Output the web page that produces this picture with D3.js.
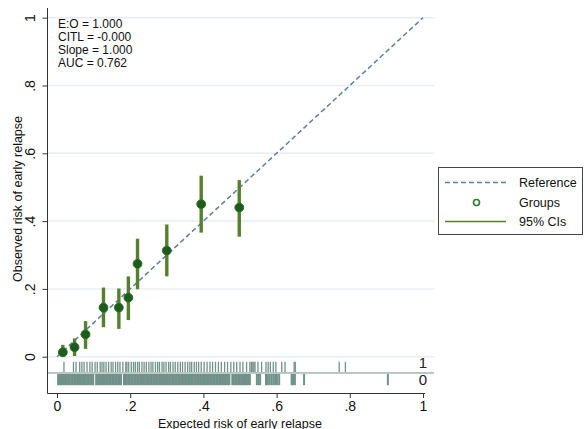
<!DOCTYPE html>
<html>
<head>
<meta charset="utf-8">
<script src="https://cdn.jsdelivr.net/npm/d3@7"></script>
<style>
  body { margin:0; background:#fff; }
  svg { font-family: "Liberation Sans", Arial, sans-serif; }
</style>
</head>
<body>
<svg id="svg" width="585" height="429"></svg>
<script>
// calibration groups (expected vs observed) + 95% CIs
var groupExp  = [0.016, 0.048, 0.078, 0.127, 0.169, 0.195, 0.220, 0.300, 0.394, 0.498];
var groupObs  = [0.013, 0.028, 0.066, 0.145, 0.145, 0.174, 0.274, 0.313, 0.450, 0.440];
var ciLow     = [0.000, 0.002, 0.023, 0.087, 0.082, 0.108, 0.199, 0.237, 0.366, 0.354];
var ciHigh    = [0.035, 0.054, 0.105, 0.204, 0.201, 0.237, 0.348, 0.390, 0.534, 0.521];

var tickVals   = [0, 0.2, 0.4, 0.6, 0.8, 1];
var tickLabels = ["0", ".2", ".4", ".6", ".8", "1"];

var statLines = ["E:O = 1.000", "CITL = -0.000", "Slope = 1.000", "AUC = 0.762"];
var legendLabels = ["Reference", "Groups", "95% CIs"];

// rug: predicted risk of patients with outcome = 1
var rugEvents = [0.019,0.045,0.052,0.062,0.068,0.074,0.082,0.090,0.096,0.104,
  0.110,0.118,0.123,0.128,0.134,0.141,0.148,0.153,0.160,0.166,
  0.172,0.180,0.188,0.191,0.196,0.203,0.209,0.214,0.220,0.225,
  0.232,0.238,0.244,0.251,0.257,0.262,0.269,0.275,0.280,0.287,
  0.292,0.298,0.305,0.310,0.317,0.323,0.330,0.337,0.343,0.350,
  0.357,0.363,0.368,0.375,0.381,0.387,0.394,0.402,0.410,0.418,
  0.425,0.433,0.441,0.449,0.458,0.466,0.475,0.483,0.491,0.500,
  0.508,0.518,0.527,0.531,0.535,0.538,0.541,0.549,0.559,0.571,
  0.577,0.583,0.591,0.598,0.614,0.623,0.648,0.651,0.771,0.788];
// rug: predicted risk of patients with outcome = 0
var rugNonEvents = [0.003,0.007,0.011,0.015,0.019,0.023,0.027,0.031,0.035,0.039,
  0.043,0.047,0.051,0.055,0.059,0.063,0.067,0.071,0.075,0.079,
  0.083,0.087,0.091,0.095,0.099,0.107,0.111,0.115,0.119,0.123,
  0.127,0.131,0.135,0.139,0.143,0.147,0.151,0.155,0.159,0.163,
  0.167,0.171,0.175,0.183,0.187,0.191,0.195,0.199,0.203,0.207,
  0.211,0.215,0.219,0.223,0.227,0.231,0.235,0.239,0.243,0.247,
  0.251,0.255,0.259,0.263,0.267,0.271,0.275,0.279,0.283,0.287,
  0.291,0.295,0.299,0.303,0.307,0.311,0.315,0.319,0.323,0.327,
  0.331,0.335,0.339,0.343,0.347,0.351,0.355,0.359,0.363,0.367,
  0.371,0.375,0.379,0.383,0.387,0.391,0.395,0.399,0.403,0.407,
  0.411,0.415,0.419,0.423,0.427,0.431,0.435,0.439,0.443,0.447,
  0.451,0.455,0.459,0.463,0.467,0.471,0.479,0.483,0.487,0.491,
  0.495,0.499,0.503,0.507,0.511,0.515,0.519,0.523,0.527,
  0.546,0.550,0.555,0.571,0.576,0.581,0.586,0.591,0.596,0.601,
  0.607,0.641,0.645,0.650,0.675,0.904];

var svg = d3.select("#svg");

var x = d3.scaleLinear().domain([0, 1]).range([57, 423]);
var y = d3.scaleLinear().domain([0, 1]).range([356.7, 17.7]);

var rugCol = "#71918a";
var refCol = "#5f7d9c";
var ciCol = "#55802f";
var dotCol = "#1c5c1c";

// gridlines
svg.append("g").selectAll("line")
  .data(tickVals).enter().append("line")
  .attr("x1", 48).attr("x2", 434)
  .attr("y1", function(d){ return y(d); }).attr("y2", function(d){ return y(d); })
  .style("stroke", "#e6eef2").style("stroke-width", 1.5);

// rug separator
svg.append("line")
  .attr("x1", 48).attr("x2", 434)
  .attr("y1", y(-0.048)).attr("y2", y(-0.048))
  .style("stroke", rugCol).style("stroke-width", 1);

// rug ticks
svg.append("g").selectAll("line")
  .data(rugEvents).enter().append("line")
  .attr("x1", function(d){ return x(d); }).attr("x2", function(d){ return x(d); })
  .attr("y1", y(-0.015)).attr("y2", y(-0.045))
  .style("stroke", rugCol).style("stroke-width", 1.3);
svg.append("g").selectAll("line")
  .data(rugNonEvents).enter().append("line")
  .attr("x1", function(d){ return x(d); }).attr("x2", function(d){ return x(d); })
  .attr("y1", y(-0.051)).attr("y2", y(-0.084))
  .style("stroke", rugCol).style("stroke-width", 2);

svg.append("text").attr("x", x(1) + 4).attr("y", y(-0.034))
  .attr("text-anchor", "end").style("font-size", "15px").style("fill", "#222").text("1");
svg.append("text").attr("x", x(1) + 4).attr("y", y(-0.084))
  .attr("text-anchor", "end").style("font-size", "15px").style("fill", "#222").text("0");

// reference line
svg.append("line")
  .attr("x1", x(0)).attr("y1", y(0)).attr("x2", x(1)).attr("y2", y(1))
  .style("stroke", refCol).style("stroke-width", 1.5).style("stroke-dasharray", "5,3");

// CIs
svg.append("g").selectAll("line")
  .data(groupExp).enter().append("line")
  .attr("x1", function(d){ return x(d); }).attr("x2", function(d){ return x(d); })
  .attr("y1", function(d, i){ return y(ciLow[i]); })
  .attr("y2", function(d, i){ return y(ciHigh[i]); })
  .style("stroke", ciCol).style("stroke-width", 3.4);

// group points
svg.append("g").selectAll("circle")
  .data(groupExp).enter().append("circle")
  .attr("cx", function(d){ return x(d); })
  .attr("cy", function(d, i){ return y(groupObs[i]); })
  .attr("r", 4.4)
  .style("fill", dotCol).style("stroke", "#2f6e25").style("stroke-width", 1);

// axes
var xAxis = d3.axisBottom(x).tickValues(tickVals)
  .tickFormat(function(d, i){ return tickLabels[i]; }).tickSize(5).tickSizeOuter(0);
var gx = svg.append("g").attr("transform", "translate(0,393)").call(xAxis);
gx.select(".domain").remove();
gx.append("line").attr("x1", 47.5).attr("x2", 425).attr("y1", 0.5).attr("y2", 0.5)
  .style("stroke", "#333");
gx.selectAll(".tick line").style("stroke", "#333");
gx.selectAll(".tick text").style("font-size", "14px").style("fill", "#111")
  .attr("font-family", null).attr("y", 8);

var yAxis = d3.axisLeft(y).tickValues(tickVals)
  .tickFormat(function(d, i){ return tickLabels[i]; }).tickSize(5).tickSizeOuter(0);
var gy = svg.append("g").attr("transform", "translate(47.5,0)").call(yAxis);
gy.select(".domain").remove();
gy.append("line").attr("x1", 0).attr("x2", 0).attr("y1", 8).attr("y2", 393.5)
  .style("stroke", "#333");
gy.selectAll(".tick line").style("stroke", "#333");
gy.selectAll(".tick text").style("font-size", "14px").style("fill", "#111")
  .attr("font-family", null)
  .attr("x", null).attr("dy", null)
  .attr("text-anchor", "middle")
  .attr("transform", "translate(-13,0) rotate(-90)");

// axis titles
svg.append("text").attr("x", 240).attr("y", 428)
  .attr("text-anchor", "middle").style("font-size", "12.5px").style("fill", "#111")
  .text("Expected risk of early relapse");
svg.append("text").attr("transform", "translate(22,199) rotate(-90)")
  .attr("text-anchor", "middle").style("font-size", "12.5px").style("fill", "#111")
  .text("Observed risk of early relapse");

// stats
svg.append("g").selectAll("text")
  .data(statLines).enter().append("text")
  .attr("x", 58).attr("y", function(d, i){ return 28.3 + i * 12.8; })
  .style("font-size", "12px").style("fill", "#111")
  .text(function(d){ return d; });

// legend
var lg = svg.append("g");
lg.append("rect").attr("x", 438.5).attr("y", 167.5).attr("width", 144).attr("height", 67)
  .style("fill", "#fff").style("stroke", "#444").style("stroke-width", 1);
lg.append("line").attr("x1", 445).attr("x2", 506).attr("y1", 182.5).attr("y2", 182.5)
  .style("stroke", refCol).style("stroke-width", 1.5).style("stroke-dasharray", "5,3");
lg.append("circle").attr("cx", 476.5).attr("cy", 202.5).attr("r", 3)
  .style("fill", "none").style("stroke", "#2a7a2a").style("stroke-width", 1.6);
lg.append("line").attr("x1", 445).attr("x2", 506).attr("y1", 221.5).attr("y2", 221.5)
  .style("stroke", ciCol).style("stroke-width", 1.3);
lg.selectAll(".lt").data(legendLabels).enter().append("text")
  .attr("x", 519).attr("y", function(d, i){ return 187 + i * 19.5; })
  .attr("text-anchor", "start")
  .style("font-size", "12.5px").style("fill", "#111")
  .text(function(d){ return d; });
</script>
</body>
</html>
